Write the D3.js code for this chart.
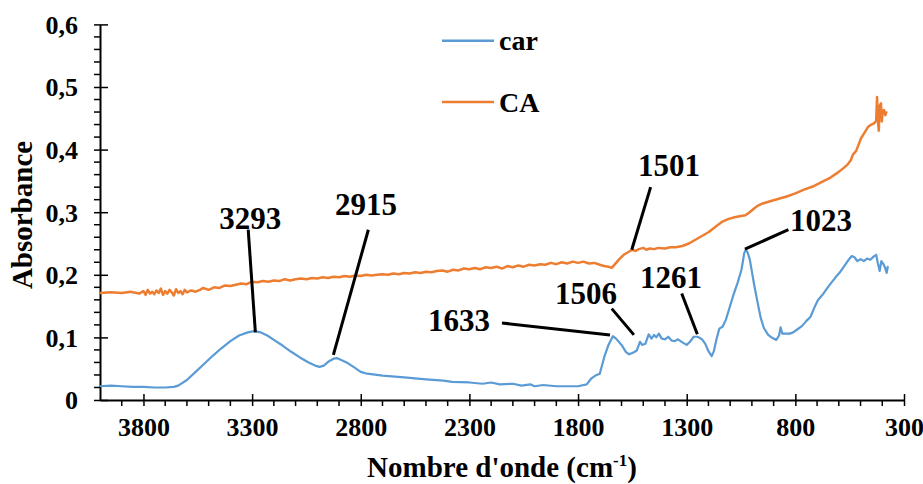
<!DOCTYPE html>
<html>
<head>
<meta charset="utf-8">
<script src="https://cdn.jsdelivr.net/npm/d3@7"></script>
<style>
  html, body { margin: 0; padding: 0; background: #fff; }
  svg { display: block; font-family: "Liberation Serif", "Times New Roman", serif; font-weight: bold; }
</style>
</head>
<body>
<svg id="chart" width="923" height="484"></svg>
<script>
// FTIR spectra: wavenumber (cm-1) and absorbance
const carWavenumber = [4000,3950,3900,3850,3800,3750,3700,3660,3640,3600,3560,3520,3480,3440,3400,3360,3320,3290,3260,3230,3200,3160,3120,3080,3040,3010,2990,2970,2950,2925,2910,2890,2860,2830,2800,2770,2700,2600,2500,2420,2380,2300,2240,2200,2160,2100,2060,2020,2000,1960,1900,1850,1800,1760,1740,1720,1700,1680,1660,1640,1625,1600,1580,1565,1545,1530,1515,1505,1490,1475,1462,1450,1440,1428,1415,1400,1385,1370,1355,1340,1320,1300,1285,1268,1250,1230,1215,1200,1185,1175,1163,1150,1135,1120,1105,1085,1065,1048,1035,1028,1020,1010,1000,990,975,960,945,925,905,888,875,868,860,845,825,810,790,770,750,730,712,695,675,655,635,615,595,575,555,540,528,515,500,485,470,455,440,428,420,412,404,396,388,380,374];
const carAbsorbance = [0.022,0.023,0.022,0.021,0.021,0.020,0.020,0.021,0.023,0.032,0.045,0.058,0.071,0.083,0.094,0.103,0.108,0.110,0.108,0.103,0.096,0.087,0.077,0.068,0.060,0.055,0.053,0.055,0.061,0.066,0.067,0.064,0.059,0.052,0.045,0.042,0.039,0.036,0.033,0.031,0.029,0.028,0.026,0.028,0.025,0.026,0.023,0.025,0.022,0.024,0.022,0.022,0.022,0.025,0.034,0.039,0.042,0.068,0.088,0.102,0.098,0.088,0.077,0.073,0.076,0.079,0.093,0.088,0.090,0.105,0.098,0.104,0.100,0.106,0.098,0.097,0.101,0.095,0.094,0.097,0.092,0.088,0.093,0.101,0.101,0.097,0.090,0.078,0.070,0.078,0.097,0.114,0.117,0.128,0.145,0.168,0.188,0.208,0.235,0.240,0.236,0.225,0.205,0.185,0.158,0.132,0.115,0.104,0.099,0.096,0.103,0.116,0.106,0.106,0.106,0.108,0.113,0.118,0.126,0.133,0.148,0.160,0.168,0.178,0.187,0.196,0.204,0.214,0.224,0.230,0.228,0.222,0.225,0.222,0.226,0.224,0.229,0.232,0.218,0.206,0.222,0.218,0.212,0.203,0.214];

const caWavenumber = [4000,3950,3900,3860,3820,3800,3790,3780,3770,3760,3750,3740,3730,3720,3710,3700,3690,3680,3670,3660,3650,3640,3630,3620,3610,3600,3580,3560,3540,
  3525,3500,3475,3450,3425,3400,3375,3350,3325,3300,3275,3250,3225,3200,3175,3150,3125,3100,3075,3050,3025,3000,2975,2950,2925,2900,2875,2850,2825,2800,2775,2750,2725,2700,2675,2650,2625,2600,2575,2550,2525,2500,2475,2450,2425,2400,2375,2350,2325,2300,2275,2250,2225,2200,2175,2150,2125,2100,2075,2050,2025,2000,1975,1950,1925,1900,1875,1850,1825,1800,1775,1750,1725,1700,1680,1660,1645,
  1630,1610,1590,1570,1550,1535,1520,1500,1485,1470,1450,1430,1400,1375,1350,1320,1290,1260,1230,1200,1170,1140,1110,1080,1050,1030,1010,990,970,950,920,880,840,800,760,720,680,640,610,580,560,545,535,520,498,480,466,450,438,428,424,420,416,412,406,402,398,392,386,380];
const caAbsorbance = [0.171,0.172,0.171,0.173,0.170,0.174,0.168,0.176,0.170,0.173,0.169,0.175,0.171,0.178,0.168,0.174,0.170,0.176,0.172,0.167,0.177,0.171,0.174,0.169,0.176,0.172,0.175,0.173,0.176,
  0.179,0.176,0.180,0.179,0.183,0.182,0.184,0.186,0.185,0.189,0.188,0.190,0.189,0.191,0.190,0.193,0.191,0.193,0.194,0.193,0.195,0.194,0.196,0.195,0.197,0.196,0.198,0.197,0.199,0.198,0.200,0.199,0.200,0.201,0.200,0.202,0.201,0.203,0.202,0.204,0.203,0.205,0.204,0.206,0.207,0.205,0.208,0.207,0.210,0.209,0.211,0.209,0.212,0.211,0.213,0.210,0.214,0.212,0.215,0.213,0.216,0.215,0.217,0.216,0.219,0.217,0.220,0.218,0.221,0.219,0.221,0.218,0.219,0.216,0.214,0.213,0.211,
  0.217,0.225,0.232,0.236,0.240,0.238,0.241,0.243,0.240,0.242,0.241,0.243,0.242,0.244,0.244,0.246,0.250,0.256,0.262,0.268,0.276,0.284,0.289,0.292,0.294,0.295,0.300,0.306,0.311,0.314,0.317,0.321,0.325,0.330,0.336,0.341,0.348,0.355,0.362,0.370,0.376,0.383,0.392,0.398,0.418,0.428,0.436,0.440,0.442,0.446,0.484,0.445,0.430,0.470,0.474,0.445,0.462,0.463,0.455,0.461];

const seriesNames = ["car", "CA"];
const seriesColors = ["#5B9BD5", "#ED7D31"];

const xTickValues = [3800, 3300, 2800, 2300, 1800, 1300, 800, 300];
const yTickValues = [0, 0.1, 0.2, 0.3, 0.4, 0.5, 0.6];
const yTickLabels = ["0", "0,1", "0,2", "0,3", "0,4", "0,5", "0,6"];

// peak annotations: label, label anchor (wavenumber, absorbance), leader start and end
const peakLabels = ["3293", "2915", "1633", "1506", "1261", "1501", "1023"];
const labelWn  = [3308, 2776, 2348, 1763, 1372, 1381, 682];
const labelAbs = [0.273, 0.296, 0.110, 0.153, 0.179, 0.358, 0.270];
const leadFromWn  = [3318, 2765, 2150, 1645, 1323, 1466, 832];
const leadFromAbs = [0.272, 0.272, 0.123, 0.146, 0.170, 0.340, 0.272];
const leadToWn  = [3285, 2926, 1653, 1543, 1251, 1553, 1032];
const leadToAbs = [0.108, 0.072, 0.104, 0.104, 0.105, 0.240, 0.241];

const svg = d3.select("#chart");
const x = d3.scaleLinear().domain([4000, 300]).range([100, 904]);
const y = d3.scaleLinear().domain([0, 0.6]).range([400, 24.4]);

// minor ticks
const xMinor = d3.range(3900, 300, -100).filter(v => v % 500 !== 300);
svg.append("g").selectAll("line").data(xMinor).join("line")
  .attr("x1", d => x(d)).attr("x2", d => x(d))
  .attr("y1", y(0)).attr("y2", y(0) + 6)
  .attr("stroke", "#000").attr("stroke-width", 1.5);
const yMinor = d3.range(0.02, 0.6, 0.02).filter(v => Math.abs(v * 10 - Math.round(v * 10)) > 0.01);
svg.append("g").selectAll("line").data(yMinor).join("line")
  .attr("x1", x(4000) - 6).attr("x2", x(4000))
  .attr("y1", d => y(d)).attr("y2", d => y(d))
  .attr("stroke", "#000").attr("stroke-width", 1.5);

// axes
const xAxis = d3.axisBottom(x).tickValues(xTickValues).tickSize(6).tickSizeOuter(0).tickFormat(d3.format("d"));
const gx = svg.append("g").attr("transform", `translate(0,${y(0)})`).call(xAxis);
gx.select(".domain").attr("stroke", "#000").attr("stroke-width", 2);
gx.selectAll(".tick line").attr("y1", -6).attr("stroke", "#000").attr("stroke-width", 1.5);
gx.selectAll(".tick text").attr("y", 0).attr("dy", null).attr("transform", "translate(0,36)")
  .attr("font-size", 26).attr("font-family", "Liberation Serif").attr("font-weight", "bold").attr("fill", "#000");

const yAxis = d3.axisLeft(y).tickValues(yTickValues).tickSize(6).tickSizeOuter(0)
  .tickFormat((d, i) => yTickLabels[i]);
const gy = svg.append("g").attr("transform", `translate(${x(4000)},0)`).call(yAxis);
gy.select(".domain").attr("stroke", "#000").attr("stroke-width", 2);
gy.selectAll(".tick line").attr("x2", 8).attr("x1", -6).attr("stroke", "#000").attr("stroke-width", 1.5);
gy.selectAll(".tick text").attr("x", -22).attr("dy", "0.34em")
  .attr("font-size", 26).attr("font-family", "Liberation Serif").attr("font-weight", "bold").attr("fill", "#000");
gy.raise();

// spectra
const line = d3.line().x(d => x(d[0])).y(d => y(d[1]));
const series = [
  d3.zip(carWavenumber, carAbsorbance),
  d3.zip(caWavenumber, caAbsorbance)
];
const strokeWidths = [2.2, 2.5];
svg.append("g").selectAll("path").data(series).join("path")
  .attr("d", line)
  .attr("fill", "none")
  .attr("stroke", (d, i) => seriesColors[i])
  .attr("stroke-width", (d, i) => strokeWidths[i])
  .attr("stroke-linejoin", "round");

// legend
const legendY = [40.7, 102];
const lg = svg.append("g");
seriesNames.forEach((name, i) => {
  lg.append("line").attr("x1", 442).attr("x2", 494).attr("y1", legendY[i]).attr("y2", legendY[i])
    .attr("stroke", seriesColors[i]).attr("stroke-width", 2.5);
  lg.append("text").attr("x", 499).attr("y", legendY[i] + 9.5).attr("font-size", 28).text(name);
});

// peak annotations
const ann = svg.append("g");
peakLabels.forEach((lab, i) => {
  ann.append("line")
    .attr("x1", x(leadFromWn[i])).attr("y1", y(leadFromAbs[i]))
    .attr("x2", x(leadToWn[i])).attr("y2", y(leadToAbs[i]))
    .attr("stroke", "#000").attr("stroke-width", 3);
  ann.append("text").attr("x", x(labelWn[i])).attr("y", y(labelAbs[i]))
    .attr("text-anchor", "middle").attr("font-size", 31).text(lab);
});

// axis titles
const xt = svg.append("text").attr("x", 502).attr("y", 477).attr("text-anchor", "middle").attr("font-size", 29);
xt.append("tspan").text("Nombre d'onde (cm");
xt.append("tspan").attr("font-size", 17).attr("dy", -11).text("-1");
xt.append("tspan").attr("dy", 11).text(")");

svg.append("text").attr("transform", "translate(32,215) rotate(-90)")
  .attr("text-anchor", "middle").attr("font-size", 29).text("Absorbance");
</script>
</body>
</html>
